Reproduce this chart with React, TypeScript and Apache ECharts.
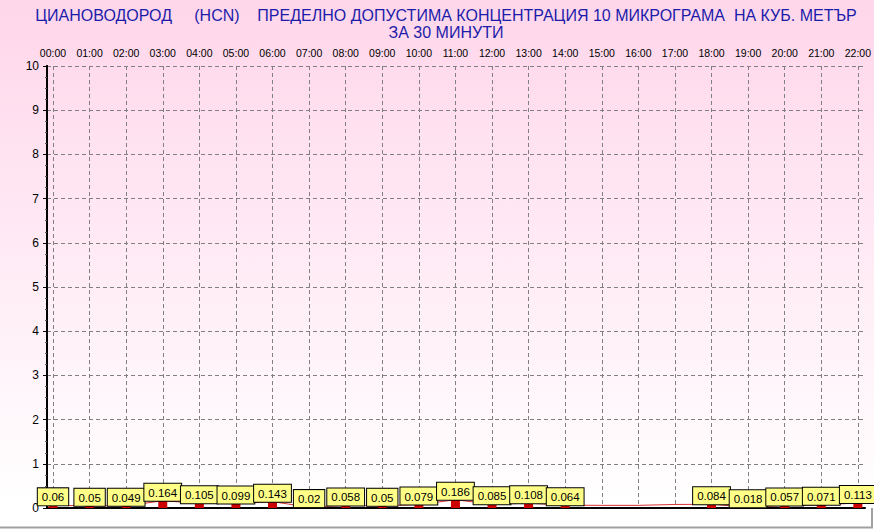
import React, { useEffect, useRef } from "react";
import * as echarts from "echarts";

const titleLines = [
  "ЦИАНОВОДОРОД     (HCN)    ПРЕДЕЛНО ДОПУСТИМА КОНЦЕНТРАЦИЯ 10 МИКРОГРАМА  НА КУБ. МЕТЪР",
  "ЗА 30 МИНУТИ",
];
const hours = [
  "00:00", "01:00", "02:00", "03:00", "04:00", "05:00", "06:00", "07:00",
  "08:00", "09:00", "10:00", "11:00", "12:00", "13:00", "14:00", "15:00",
  "16:00", "17:00", "18:00", "19:00", "20:00", "21:00", "22:00",
];
const barValues = [
  0.06, 0.05, 0.049, 0.164, 0.105, 0.099, 0.143, 0.02, 0.058, 0.05, 0.079,
  0.186, 0.085, 0.108, 0.064, null, null, null, 0.084, 0.018, 0.057, 0.071, 0.113,
];
const lineValues = [
  0.06, 0.05, 0.049, 0.164, 0.105, 0.099, 0.143, 0.02, 0.058, 0.05, 0.079,
  0.186, 0.085, 0.108, 0.064, 0.06, 0.06, 0.08, 0.084, 0.018, 0.057, 0.071, 0.113,
];
const yMin = 0;
const yMax = 10;
const yStep = 1;

export default function App() {
  const ref = useRef<HTMLDivElement>(null);
  useEffect(() => {
    if (!ref.current) return;
    const chart = echarts.init(ref.current, null, { renderer: "svg" });
    const font = "Liberation Sans, Arial, sans-serif";
    chart.setOption({
      animation: false,
      backgroundColor: new echarts.graphic.LinearGradient(0, 0, 0, 1, [
        { offset: 0, color: "#ffd6ea" },
        { offset: 0.95, color: "#ffffff" },
        { offset: 1, color: "#ffffff" },
      ]),
      textStyle: { fontFamily: font },
      grid: [
        { left: 47, right: 9, top: 66, bottom: 21 },
        { left: 53, right: 15, top: 66, bottom: 21 },
      ],
      xAxis: [
        {
          type: "value", gridIndex: 0, min: 0, max: 1, position: "bottom",
          axisLine: { show: true, lineStyle: { color: "#000", width: 1, type: [3, 2] } },
          axisTick: { show: false }, axisLabel: { show: false }, splitLine: { show: false },
        },
        {
          type: "value", gridIndex: 0, min: 0, max: 1, position: "top",
          axisLine: { show: true, lineStyle: { color: "#000", width: 2, type: [7, 1] } },
          axisTick: { show: false }, axisLabel: { show: false }, splitLine: { show: false },
        },
        {
          type: "category", gridIndex: 1, data: hours, boundaryGap: false, position: "top",
          axisLine: { show: false }, axisTick: { show: false },
          axisLabel: { color: "#000", fontSize: 10.5, margin: 8, fontFamily: font, interval: 0 },
          splitLine: { show: true, lineStyle: { color: "#808080", width: 1, type: [4, 3] } },
        },
      ],
      yAxis: [
        {
          type: "value", gridIndex: 0, min: yMin, max: yMax, interval: yStep, position: "left",
          axisLine: { show: true, lineStyle: { color: "#000", width: 2 } },
          axisTick: { show: true, length: 4, lineStyle: { color: "#000" } },
          minorTick: { show: true, splitNumber: 4, length: 2, lineStyle: { color: "#555" } },
          axisLabel: { color: "#000", fontSize: 12, margin: 8, fontFamily: font },
          splitLine: { show: true, lineStyle: { color: "#808080", width: 1, type: [4, 3] } },
        },
        {
          type: "value", gridIndex: 0, min: yMin, max: yMax, interval: yStep, position: "right",
          axisLine: { show: true, lineStyle: { color: "#000", width: 2 } },
          axisTick: { show: false }, axisLabel: { show: false }, splitLine: { show: false },
        },
        {
          type: "value", gridIndex: 1, min: yMin, max: yMax, interval: yStep, show: false,
        },
      ],
      series: [
        {
          type: "line", xAxisIndex: 2, yAxisIndex: 2, data: lineValues,
          showSymbol: false, lineStyle: { color: "#d83030", width: 1 },
          z: 3,
        },
        {
          type: "bar", xAxisIndex: 2, yAxisIndex: 2, data: barValues, barWidth: 9,
          itemStyle: { color: "#cc0000" },
          label: {
            show: true, position: "top", distance: 0, color: "#000", fontSize: 11.5,
            fontFamily: font, backgroundColor: "#ffff88", borderColor: "#000",
            borderWidth: 1, padding: [3, 4, 2, 4], lineHeight: 12,
          },
          z: 4,
        },
      ],
      graphic: [
        {
          type: "text", x: 446, y: 7,
          style: {
            text: titleLines.join("\n"), fill: "#1c1caa", fontSize: 16,
            fontFamily: font, align: "center", lineHeight: 17,
          },
        },
        {
          type: "polyline",
          shape: { points: [[872, 508], [872, 527.5], [0, 527.5]] },
          style: { stroke: "#a0a0a0", lineWidth: 2, fill: "none" },
        },
      ],
    });
    return () => chart.dispose();
  }, []);
  return (
    <div
      ref={ref}
      style={{ position: "fixed", left: 0, top: 0, width: 874, height: 529 }}
    />
  );
}
